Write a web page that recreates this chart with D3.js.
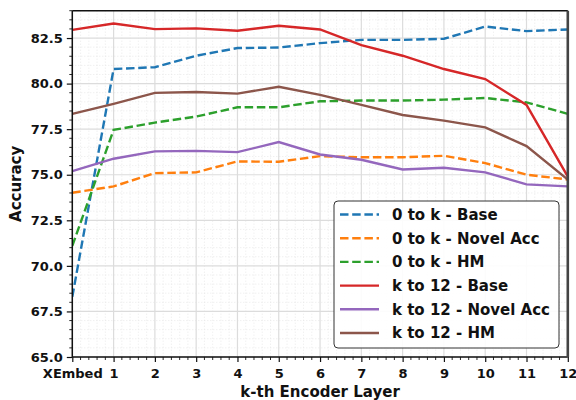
<!DOCTYPE html>
<html>
<head>
<meta charset="utf-8">
<script src="https://cdn.jsdelivr.net/npm/d3@7"></script>
<style>
  html, body { margin: 0; padding: 0; background: #fff; }
  svg { display: block; font-family: "DejaVu Sans", sans-serif; font-weight: bold; }
</style>
</head>
<body>
<div id="chart"></div>
<script>
// layers: XEmbed, then encoder layers 1..12
const layers = ['XEmbed', '1', '2', '3', '4', '5', '6', '7', '8', '9', '10', '11', '12'];
const yTicks = [65.0, 67.5, 70.0, 72.5, 75.0, 77.5, 80.0, 82.5];

const baseFwd  = [68.3, 80.8, 80.9, 81.53, 81.95, 81.98, 82.22, 82.4, 82.4, 82.46, 83.13, 82.88, 82.97];
const novelFwd = [74.01, 74.36, 75.09, 75.13, 75.73, 75.71, 76.02, 75.96, 75.96, 76.04, 75.64, 75.0, 74.74];
const hmFwd    = [71.1, 77.46, 77.86, 78.19, 78.7, 78.7, 79.03, 79.07, 79.07, 79.12, 79.21, 78.97, 78.34];
const baseBwd  = [82.95, 83.3, 82.99, 83.03, 82.9, 83.17, 82.97, 82.11, 81.53, 80.8, 80.25, 78.83, 74.9];
const novelBwd = [75.2, 75.88, 76.28, 76.31, 76.24, 76.79, 76.11, 75.82, 75.29, 75.38, 75.13, 74.47, 74.36];
const hmBwd    = [78.34, 78.89, 79.49, 79.54, 79.45, 79.83, 79.38, 78.83, 78.28, 77.97, 77.6, 76.57, 74.73];

const series = [
  { name: '0 to k - Base',       values: baseFwd,  color: '#1f77b4', dashed: true },
  { name: '0 to k - Novel Acc',  values: novelFwd, color: '#ff7f0e', dashed: true },
  { name: '0 to k - HM',         values: hmFwd,    color: '#2ca02c', dashed: true },
  { name: 'k to 12 - Base',      values: baseBwd,  color: '#d62728', dashed: false },
  { name: 'k to 12 - Novel Acc', values: novelBwd, color: '#9467bd', dashed: false },
  { name: 'k to 12 - HM',        values: hmBwd,    color: '#8c564b', dashed: false }
];

const W = 576, H = 400;
const m = { left: 72.3, right: 576 - 567.8, top: 10.7, bottom: 400 - 357 };
const iw = W - m.left - m.right, ih = H - m.top - m.bottom;

const svg = d3.select('#chart').append('svg')
  .attr('width', W).attr('height', H);

const x = d3.scaleLinear().domain([0, layers.length - 1]).range([m.left, m.left + iw]);
const y = d3.scaleLinear().domain([65, 84]).range([m.top + ih, m.top]);

svg.append('defs').append('clipPath').attr('id', 'plotClip')
  .append('rect').attr('x', m.left).attr('y', m.top).attr('width', iw).attr('height', ih);

// minor grid (dotted)
const xMinor = d3.range(0, 12.001, 0.2).filter(v => Math.abs(v - Math.round(v)) > 1e-6);
const yMinor = d3.range(65, 84.001, 0.5).filter(v => Math.abs(v / 2.5 - Math.round(v / 2.5)) > 1e-6);
const grid = svg.append('g');
xMinor.forEach(v => {
  grid.append('line').attr('x1', x(v)).attr('x2', x(v)).attr('y1', m.top).attr('y2', m.top + ih)
    .attr('stroke', '#e4e4e4').attr('stroke-width', 0.8).attr('stroke-dasharray', '1,2');
});
yMinor.forEach(v => {
  grid.append('line').attr('x1', m.left).attr('x2', m.left + iw).attr('y1', y(v)).attr('y2', y(v))
    .attr('stroke', '#e4e4e4').attr('stroke-width', 0.8).attr('stroke-dasharray', '1,2');
});
// major grid
d3.range(0, 13).forEach(v => {
  grid.append('line').attr('x1', x(v)).attr('x2', x(v)).attr('y1', m.top).attr('y2', m.top + ih)
    .attr('stroke', '#dcdcdc').attr('stroke-width', 1.2);
});
yTicks.forEach(v => {
  grid.append('line').attr('x1', m.left).attr('x2', m.left + iw).attr('y1', y(v)).attr('y2', y(v))
    .attr('stroke', '#dcdcdc').attr('stroke-width', 1.2);
});

// lines
const line = d3.line().x((d, i) => x(i)).y(d => y(d));
const plot = svg.append('g').attr('clip-path', 'url(#plotClip)');
series.forEach(s => {
  plot.append('path')
    .datum(s.values)
    .attr('d', line)
    .attr('fill', 'none')
    .attr('stroke', s.color)
    .attr('stroke-width', 2.4)
    .attr('stroke-dasharray', s.dashed ? '8.5,3.7' : null);
});

// axes
const xAxis = d3.axisBottom(x).tickValues(d3.range(0, 13)).tickFormat(i => layers[i])
  .tickSize(5).tickPadding(7);
const gx = svg.append('g').attr('transform', `translate(0,${m.top + ih})`).call(xAxis);
gx.selectAll('text').attr('font-size', 13).attr('font-weight', 'bold').attr('fill', '#111')
  .attr('font-family', '"DejaVu Sans", sans-serif');

const yAxis = d3.axisLeft(y).tickValues(yTicks).tickFormat(d3.format('.1f'))
  .tickSize(5.5).tickPadding(4);
const gy = svg.append('g').attr('transform', `translate(${m.left},0)`).call(yAxis);
gy.selectAll('text').attr('font-size', 13).attr('font-weight', 'bold').attr('fill', '#111')
  .attr('font-family', '"DejaVu Sans", sans-serif');
[gx, gy].forEach(g => {
  g.select('.domain').remove();
  g.selectAll('.tick line').attr('stroke', '#111').attr('stroke-width', 1.2);
});

// minor ticks
svg.append('g').selectAll('line').data(xMinor).join('line')
  .attr('x1', d => x(d)).attr('x2', d => x(d))
  .attr('y1', m.top + ih).attr('y2', m.top + ih + 3)
  .attr('stroke', '#111').attr('stroke-width', 0.9);
svg.append('g').selectAll('line').data(yMinor).join('line')
  .attr('x1', m.left - 3).attr('x2', m.left)
  .attr('y1', d => y(d)).attr('y2', d => y(d))
  .attr('stroke', '#111').attr('stroke-width', 0.9);

// frame
svg.append('line').attr('x1', m.left).attr('x2', m.left + iw).attr('y1', m.top).attr('y2', m.top)
  .attr('stroke', '#111').attr('stroke-width', 1.5);
svg.append('line').attr('x1', m.left).attr('x2', m.left + iw).attr('y1', m.top + ih).attr('y2', m.top + ih)
  .attr('stroke', '#111').attr('stroke-width', 1.5);
svg.append('line').attr('x1', m.left).attr('x2', m.left).attr('y1', m.top).attr('y2', m.top + ih)
  .attr('stroke', '#111').attr('stroke-width', 1.5);
svg.append('line').attr('x1', m.left + iw).attr('x2', m.left + iw).attr('y1', m.top).attr('y2', m.top + ih)
  .attr('stroke', '#444').attr('stroke-width', 2.6);

// axis titles
svg.append('text')
  .attr('x', m.left + iw / 2).attr('y', 397)
  .attr('text-anchor', 'middle').attr('font-size', 15).attr('fill', '#111')
  .text('k-th Encoder Layer');
svg.append('text')
  .attr('transform', `translate(21,${m.top + ih / 2}) rotate(-90)`)
  .attr('text-anchor', 'middle').attr('font-size', 15).attr('fill', '#111')
  .text('Accuracy');

// legend
const lg = svg.append('g').attr('transform', 'translate(334,201)');
lg.append('rect').attr('width', 225).attr('height', 147).attr('rx', 4)
  .attr('fill', '#fff').attr('fill-opacity', 0.9)
  .attr('stroke', '#333').attr('stroke-width', 1);
series.forEach((s, i) => {
  const cy = 13.5 + i * 23.7;
  lg.append('line').attr('x1', 6).attr('x2', 45).attr('y1', cy).attr('y2', cy)
    .attr('stroke', s.color).attr('stroke-width', 2.4)
    .attr('stroke-dasharray', s.dashed ? '8.5,3.7' : null);
  lg.append('text').attr('x', 58).attr('y', cy + 5.3)
    .attr('font-size', 15).attr('fill', '#111').text(s.name);
});
</script>
</body>
</html>
